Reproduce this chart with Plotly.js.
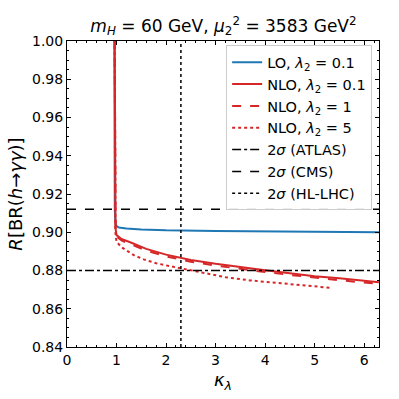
<!DOCTYPE html>
<html>
<head>
<meta charset="utf-8">
<script src="https://cdn.plot.ly/plotly-3.0.1.min.js"></script>
<style>
  html, body { margin: 0; padding: 0; background: #fff; }
  #chart { width: 399px; height: 399px; }
</style>
</head>
<body>
<div id="chart"></div>
<script>
// values
const kLO = [0.955, 0.957, 0.96, 0.965, 0.975, 0.99, 1.05, 1.2, 1.5, 2.0, 3.0, 4.0, 5.0, 6.3];
const rLO = [1.01, 0.96, 0.93, 0.912, 0.906, 0.9035, 0.9025, 0.902, 0.9015, 0.901, 0.9006, 0.9004, 0.9002, 0.9000];

const kNLO = [0.962, 0.964, 0.967, 0.972, 0.98, 1.0, 1.1, 1.3, 1.6, 2.0, 2.5, 3.0, 3.5, 4.0, 4.5, 5.0, 5.5, 6.0, 6.3];
const rNLO01 = [1.01, 0.96, 0.925, 0.908, 0.902, 0.8985, 0.8965, 0.8945, 0.8913, 0.8883, 0.8855, 0.8835, 0.8817, 0.8801, 0.8786, 0.8770, 0.8759, 0.8746, 0.8739];
const rNLO1 = [1.01, 0.96, 0.925, 0.907, 0.901, 0.8978, 0.8957, 0.8936, 0.8904, 0.8874, 0.8846, 0.8826, 0.8808, 0.8792, 0.8777, 0.8762, 0.8749, 0.8737, 0.8730];

const kNLO5 = [0.962, 0.964, 0.967, 0.972, 0.98, 1.0, 1.05, 1.1, 1.2, 1.35, 1.55, 1.8, 2.0, 2.3, 2.7, 3.2, 3.7, 4.2, 4.7, 5.3];
const rNLO5 = [1.01, 0.96, 0.92, 0.905, 0.899, 0.895, 0.8935, 0.8922, 0.8905, 0.888, 0.8858, 0.8838, 0.8827, 0.8812, 0.8791, 0.8765, 0.8748, 0.8735, 0.8722, 0.8710];

const atlas = 0.88;
const cms = 0.912;
const hllhc = 2.3;
const xRange = [0, 6.3];
const yRange = [0.84, 1.0];

const red = '#d62728';
const blue = '#1f77b4';

const traces = [
  { x: kLO, y: rLO, name: 'LO, <i>λ</i><sub>2</sub> = 0.1', mode: 'lines',
    line: { color: blue, width: 2 } },
  { x: kNLO, y: rNLO01, name: 'NLO, <i>λ</i><sub>2</sub> = 0.1', mode: 'lines',
    line: { color: red, width: 2 } },
  { x: kNLO, y: rNLO1, name: 'NLO, <i>λ</i><sub>2</sub> = 1', mode: 'lines',
    line: { color: red, width: 2, dash: 'dash' } },
  { x: kNLO5, y: rNLO5, name: 'NLO, <i>λ</i><sub>2</sub> = 5', mode: 'lines',
    line: { color: red, width: 2, dash: 'dot' } },
  { x: xRange, y: [atlas, atlas], name: '2<i>σ</i> (ATLAS)', mode: 'lines',
    line: { color: 'black', width: 1.5, dash: 'dashdot' } },
  { x: xRange, y: [cms, cms], name: '2<i>σ</i> (CMS)', mode: 'lines',
    line: { color: 'black', width: 1.5, dash: 'dash' } },
  { x: [hllhc, hllhc], y: yRange, name: '2<i>σ</i> (HL-LHC)', mode: 'lines',
    line: { color: 'black', width: 1.5, dash: 'dot' } }
];

const axisCommon = {
  showline: true, linecolor: 'black', linewidth: 1, mirror: 'allticks',
  ticks: 'inside', ticklen: 4, tickcolor: 'black', showgrid: false, zeroline: false,
  tickfont: { family: 'DejaVu Sans', size: 14, color: 'black' }
};

const layout = {
  width: 399, height: 399,
  margin: { l: 67, r: 20, t: 41, b: 52 },
  paper_bgcolor: 'white', plot_bgcolor: 'white',
  font: { family: 'DejaVu Sans', color: 'black' },
  title: {
    text: '<i>m</i><sub><i>H</i></sub> = 60 GeV, <i>μ</i><sub>2</sub><sup>2</sup> = 3583 GeV<sup>2</sup>',
    font: { size: 17 }, x: 0.56, xanchor: 'center', y: 0.935, yanchor: 'middle'
  },
  xaxis: Object.assign({}, axisCommon, {
    range: xRange, dtick: 1, tick0: 0,
    minor: { dtick: 0.2, ticks: 'inside', ticklen: 2, tickcolor: 'black' },
    title: { text: '<i>κ</i><sub><i>λ</i></sub>', font: { size: 18 }, standoff: 6 }
  }),
  yaxis: Object.assign({}, axisCommon, {
    range: yRange, dtick: 0.02, tick0: 0.84, tickformat: '.2f',
    minor: { dtick: 0.005, ticks: 'inside', ticklen: 2, tickcolor: 'black' },
    title: { text: '<i>R</i>[BR(<i>h</i>→<i>γγ</i>)]', font: { size: 18 }, standoff: 4 }
  }),
  showlegend: true,
  legend: {
    x: 0.978, xanchor: 'right', y: 0.986, yanchor: 'top',
    bgcolor: 'rgba(255,255,255,0.85)', bordercolor: '#cccccc', borderwidth: 1,
    font: { size: 14.5 }, tracegroupgap: 0, itemwidth: 30
  }
};

Plotly.newPlot('chart', traces, layout, { displayModeBar: false, staticPlot: true });
</script>
</body>
</html>
